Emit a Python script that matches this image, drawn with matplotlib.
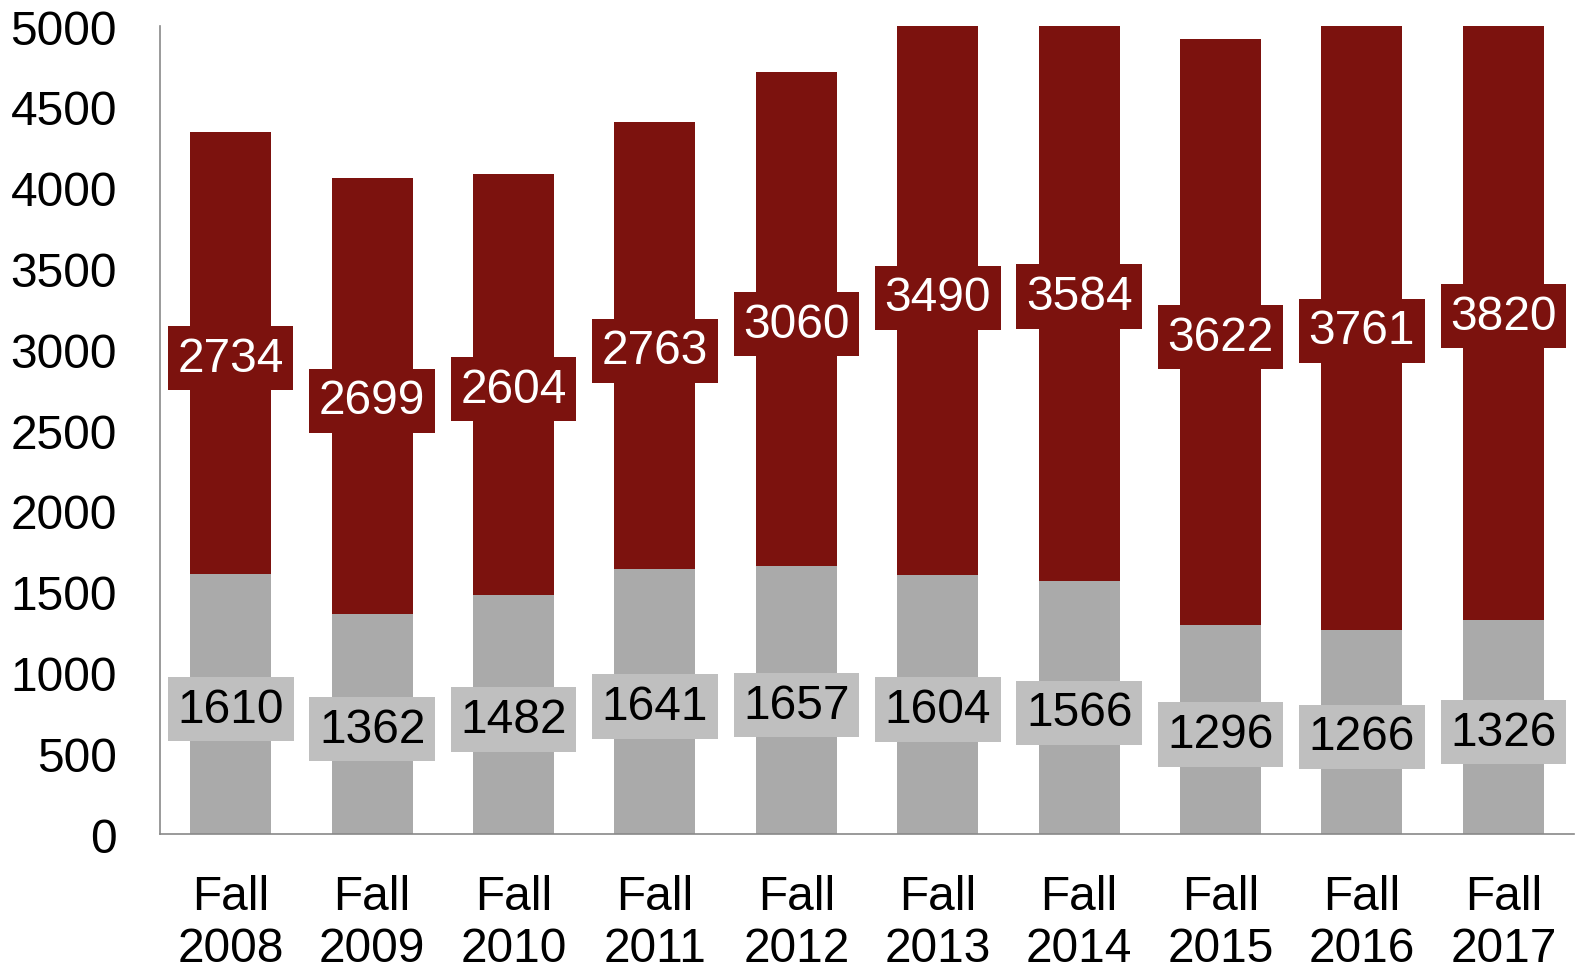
import matplotlib
matplotlib.use("Agg")
import matplotlib.pyplot as plt
import numpy as np

plt.rcParams['font.family'] = ['Liberation Sans', 'DejaVu Sans']

categories = ["Fall\n2008", "Fall\n2009", "Fall\n2010", "Fall\n2011", "Fall\n2012",
              "Fall\n2013", "Fall\n2014", "Fall\n2015", "Fall\n2016", "Fall\n2017"]
gray_vals = [1610, 1362, 1482, 1641, 1657, 1604, 1566, 1296, 1266, 1326]
red_vals = [2734, 2699, 2604, 2763, 3060, 3490, 3584, 3622, 3761, 3820]
yticks = [0, 500, 1000, 1500, 2000, 2500, 3000, 3500, 4000, 4500, 5000]

RED = "#7C120E"
GRAY = "#AAAAAA"
GRAY_BOX = "#BFBFBF"

fig = plt.figure(figsize=(15.75, 9.70), dpi=100)
ax = fig.add_axes([0.1016, 0.139, 0.8978, 0.833])

x = np.arange(len(categories))
w = 0.573
ax.bar(x, gray_vals, width=w, color=GRAY, zorder=2)
ax.bar(x, red_vals, width=w, bottom=gray_vals, color=RED, zorder=2)

fs = 34.5
for xi, g, r in zip(x, gray_vals, red_vals):
    ax.text(xi, g / 2, str(g), ha='center', va='center_baseline', fontsize=fs, color='black',
            bbox=dict(boxstyle='square,pad=0.2', facecolor=GRAY_BOX, edgecolor='none'), zorder=3)
    ax.text(xi, g + r / 2, str(r), ha='center', va='center_baseline', fontsize=fs, color='white',
            bbox=dict(boxstyle='square,pad=0.2', facecolor=RED, edgecolor='none'), zorder=3)

ax.set_xlim(-0.5, len(categories) - 0.5)
ax.set_ylim(0, 5000)
ax.set_yticks(yticks)
ax.set_yticklabels([str(v) for v in yticks], fontsize=fs)
ax.set_xticks(x)
ax.set_xticklabels(categories, fontsize=fs, linespacing=1.2)
ax.tick_params(axis='y', length=0, pad=31)
ax.tick_params(axis='x', length=0, pad=29)
for s in ['top', 'right']:
    ax.spines[s].set_visible(False)
for s in ['left', 'bottom']:
    ax.spines[s].set_color('#898989')
    ax.spines[s].set_linewidth(1.2)

fig.savefig("out.png", dpi=100)
